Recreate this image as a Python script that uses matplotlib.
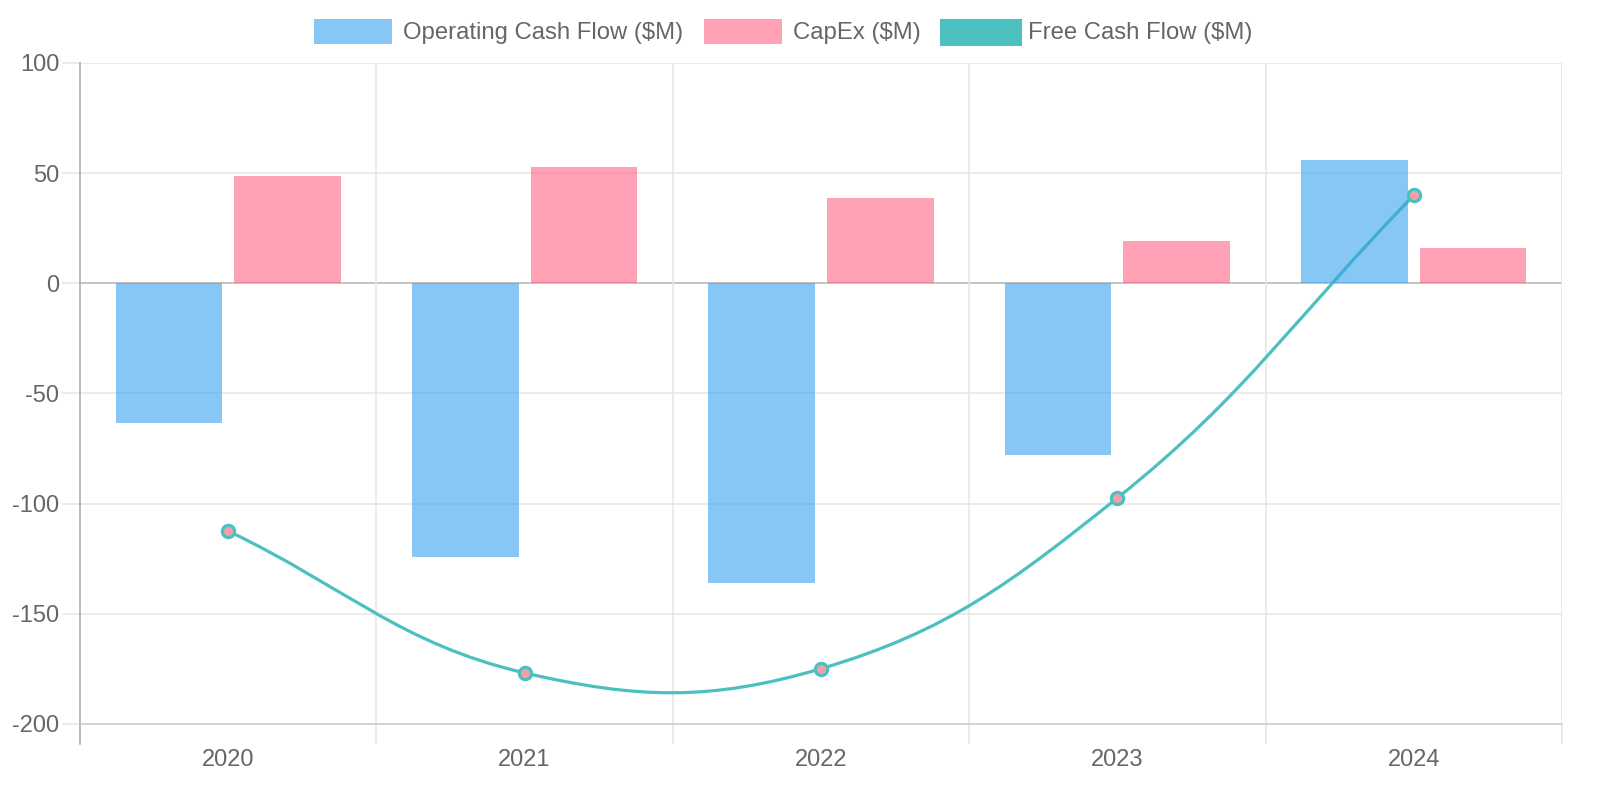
import numpy as np
import matplotlib
matplotlib.use("Agg")
import matplotlib.pyplot as plt
from matplotlib.path import Path
from matplotlib.patches import PathPatch, Rectangle

plt.rcParams['font.family'] = ['Liberation Sans', 'DejaVu Sans']

years = ["2020", "2021", "2022", "2023", "2024"]
operating_cf = [-63.6, -124.0, -136.2, -78.1, 55.8]
capex = [48.6, 52.7, 38.6, 19.1, 15.9]
free_cf = [-112.4, -176.8, -174.9, -97.4, 39.9]
y_ticks = [-200, -150, -100, -50, 0, 50, 100]

blue = (54/255, 162/255, 235/255, 0.6)
pink = (255/255, 99/255, 132/255, 0.6)
teal = (75/255, 192/255, 192/255)
text_c = '#666666'
grid_c = '#e5e5e5'

W, H = 1600, 800
fig = plt.figure(figsize=(16, 8), dpi=100)
L, R, T, B = 80, 1562, 63, 724
ax = fig.add_axes([L / W, 1 - B / H, (R - L) / W, (B - T) / H])

n = len(years)
x = np.arange(n)
ax.set_xlim(-0.5, n - 0.5)
ax.set_ylim(-200, 100)

# bars
ax.bar(x - 0.2, operating_cf, width=0.36, color=blue, zorder=3, linewidth=0)
ax.bar(x + 0.2, capex, width=0.36, color=pink, zorder=3, linewidth=0)

# Chart.js-like spline (tension 0.4), computed in pixel space
sx = (R - L) / n
sy = (B - T) / 300.0
px = x * sx
py = np.array(free_cf) * sy
pts = np.column_stack([px, py])
t = 0.4
cp_prev = np.zeros_like(pts)
cp_next = np.zeros_like(pts)
for i in range(n):
    cur = pts[i]
    prev = pts[i - 1] if i > 0 else cur
    nxt = pts[i + 1] if i < n - 1 else cur
    d01 = np.hypot(*(cur - prev))
    d12 = np.hypot(*(nxt - cur))
    tot = d01 + d12
    s01 = d01 / tot if tot else 0
    s12 = d12 / tot if tot else 0
    fa, fb = t * s01, t * s12
    cp_prev[i] = cur - fa * (nxt - prev)
    cp_next[i] = cur + fb * (nxt - prev)
verts = [tuple(pts[0])]
codes = [Path.MOVETO]
for i in range(n - 1):
    verts += [tuple(cp_next[i]), tuple(cp_prev[i + 1]), tuple(pts[i + 1])]
    codes += [Path.CURVE4] * 3
verts = np.array(verts)
verts[:, 0] /= sx
verts[:, 1] /= sy
path = Path(verts, codes)
ax.add_patch(PathPatch(path, facecolor='none', edgecolor=teal, lw=2.3, zorder=2, capstyle='round'))
ax.plot(x, free_cf, linestyle='none', marker='o', markersize=8.8,
        markerfacecolor='#f2a0a8', markeredgecolor=teal, markeredgewidth=2.3, zorder=4)

# grid / axes
ax.set_yticks(y_ticks)
ax.set_yticklabels([str(v) for v in y_ticks])
ax.set_xticks(x)
ax.set_xticklabels(years)
ax.set_xticks(np.arange(-0.5, n, 1.0), minor=True)
ax.grid(False)
for v in y_ticks:
    if v == 0:
        ax.axhline(v, color='#b3b3b3', lw=1.1, zorder=1)
    elif v == -200:
        pass
    else:
        ax.axhline(v, color=grid_c, lw=1.1, zorder=1)
for xb in np.arange(-0.5, n, 1.0)[1:]:
    ax.axvline(xb, color=grid_c, lw=1.1, zorder=1)

for s in ['top', 'right']:
    ax.spines[s].set_visible(False)
ax.spines['left'].set_color('#a8a8a8')
ax.spines['left'].set_linewidth(1.1)
ax.spines['bottom'].set_color('#c8c8c8')
ax.spines['bottom'].set_linewidth(1.1)

ax.tick_params(axis='y', which='major', length=13, color=grid_c, width=1.1, pad=2,
               labelsize=17, labelcolor=text_c)
ax.tick_params(axis='x', which='major', length=0, pad=18, labelsize=17, labelcolor=text_c)
ax.tick_params(axis='x', which='minor', length=14.5, color=grid_c, width=1.1)
# darker extension of the left axis below the plot
ax.plot([0, 0], [0, -20 / (B - T)], transform=ax.transAxes, color='#a8a8a8', lw=1.1, clip_on=False)

# legend (drawn manually, chart.js style)
items = [("Operating Cash Flow ($M)", blue, None, 314),
         ("CapEx ($M)", pink, None, 704),
         ("Free Cash Flow ($M)", (75/255, 192/255, 192/255, 1.0), teal, 939)]
for label, fc, ec, bx in items:
    if ec is None:
        fig.patches.append(Rectangle((bx / W, 1 - 43.5 / H), 78 / W, 24 / H,
                                     transform=fig.transFigure, facecolor=fc, edgecolor='none'))
    else:
        fig.patches.append(Rectangle((bx / W + 1.5 / W, 1 - 44 / H), 79 / W, 24 / H,
                                     transform=fig.transFigure, facecolor=fc, edgecolor=ec, lw=2.2))
    fig.text((bx + 89) / W, 1 - 33.5 / H, label, fontsize=17.2, color=text_c,
             ha='left', va='center')

fig.savefig("out.png", dpi=100)
